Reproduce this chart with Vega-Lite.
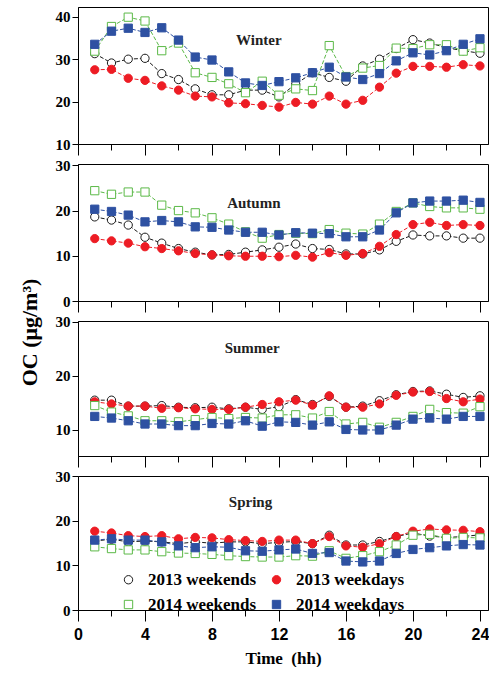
{
  "$schema": "https://vega.github.io/schema/vega-lite/v6.json",
  "background": "white",
  "padding": {"left": 17, "top": 6, "right": 1, "bottom": 0},
  "datasets": {
    "oc": [
      {"season":"Winter","hour":1,"2013 weekends":31.3,"2013 weekdays":27.5,"2014 weekends":31.9,"2014 weekdays":33.5},
      {"season":"Winter","hour":2,"2013 weekends":29.1,"2013 weekdays":27.6,"2014 weekends":37.7,"2014 weekdays":36.6},
      {"season":"Winter","hour":3,"2013 weekends":30.0,"2013 weekdays":25.5,"2014 weekends":39.9,"2014 weekdays":37.3},
      {"season":"Winter","hour":4,"2013 weekends":30.2,"2013 weekdays":25.0,"2014 weekends":39.0,"2014 weekdays":36.3},
      {"season":"Winter","hour":5,"2013 weekends":26.6,"2013 weekdays":23.7,"2014 weekends":32.0,"2014 weekdays":37.4},
      {"season":"Winter","hour":6,"2013 weekends":25.2,"2013 weekdays":22.7,"2014 weekends":33.8,"2014 weekdays":34.5},
      {"season":"Winter","hour":7,"2013 weekends":23.0,"2013 weekdays":21.3,"2014 weekends":26.8,"2014 weekdays":30.5},
      {"season":"Winter","hour":8,"2013 weekends":21.6,"2013 weekdays":21.1,"2014 weekends":25.7,"2014 weekdays":29.8},
      {"season":"Winter","hour":9,"2013 weekends":21.6,"2013 weekdays":19.7,"2014 weekends":24.2,"2014 weekdays":27.0},
      {"season":"Winter","hour":10,"2013 weekends":22.7,"2013 weekdays":19.5,"2014 weekends":22.1,"2014 weekdays":24.4},
      {"season":"Winter","hour":11,"2013 weekends":22.7,"2013 weekdays":19.1,"2014 weekends":24.8,"2014 weekdays":23.8},
      {"season":"Winter","hour":12,"2013 weekends":21.1,"2013 weekdays":18.7,"2014 weekends":21.5,"2014 weekdays":24.7},
      {"season":"Winter","hour":13,"2013 weekends":24.1,"2013 weekdays":19.8,"2014 weekends":23.0,"2014 weekdays":25.6},
      {"season":"Winter","hour":14,"2013 weekends":26.8,"2013 weekdays":19.4,"2014 weekends":22.6,"2014 weekdays":26.8},
      {"season":"Winter","hour":15,"2013 weekends":25.7,"2013 weekdays":21.3,"2014 weekends":33.2,"2014 weekdays":28.1},
      {"season":"Winter","hour":16,"2013 weekends":24.8,"2013 weekdays":19.4,"2014 weekends":25.9,"2014 weekdays":25.8},
      {"season":"Winter","hour":17,"2013 weekends":28.4,"2013 weekdays":20.3,"2014 weekends":27.9,"2014 weekdays":25.2},
      {"season":"Winter","hour":18,"2013 weekends":30.0,"2013 weekdays":23.4,"2014 weekends":28.5,"2014 weekdays":26.6},
      {"season":"Winter","hour":19,"2013 weekends":32.5,"2013 weekdays":26.7,"2014 weekends":32.6,"2014 weekdays":29.6},
      {"season":"Winter","hour":20,"2013 weekends":34.6,"2013 weekdays":28.3,"2014 weekends":32.5,"2014 weekdays":31.5},
      {"season":"Winter","hour":21,"2013 weekends":33.8,"2013 weekdays":28.3,"2014 weekends":33.4,"2014 weekdays":31.0},
      {"season":"Winter","hour":22,"2013 weekends":32.7,"2013 weekdays":28.1,"2014 weekends":33.4,"2014 weekdays":32.0},
      {"season":"Winter","hour":23,"2013 weekends":32.0,"2013 weekdays":28.7,"2014 weekends":31.9,"2014 weekdays":33.5},
      {"season":"Winter","hour":24,"2013 weekends":31.4,"2013 weekdays":28.4,"2014 weekends":32.7,"2014 weekdays":34.8},
      {"season":"Autumn","hour":1,"2013 weekends":18.6,"2013 weekdays":13.8,"2014 weekends":24.4,"2014 weekdays":20.3},
      {"season":"Autumn","hour":2,"2013 weekends":17.9,"2013 weekdays":13.3,"2014 weekends":23.6,"2014 weekdays":19.8},
      {"season":"Autumn","hour":3,"2013 weekends":16.8,"2013 weekdays":12.8,"2014 weekends":24.1,"2014 weekdays":19.0},
      {"season":"Autumn","hour":4,"2013 weekends":14.1,"2013 weekdays":12.0,"2014 weekends":24.1,"2014 weekdays":17.5},
      {"season":"Autumn","hour":5,"2013 weekends":12.8,"2013 weekdays":11.6,"2014 weekends":21.2,"2014 weekdays":17.8},
      {"season":"Autumn","hour":6,"2013 weekends":11.6,"2013 weekdays":11.1,"2014 weekends":20.0,"2014 weekdays":17.5},
      {"season":"Autumn","hour":7,"2013 weekends":10.8,"2013 weekdays":10.5,"2014 weekends":19.5,"2014 weekdays":16.4},
      {"season":"Autumn","hour":8,"2013 weekends":10.2,"2013 weekdays":10.2,"2014 weekends":18.4,"2014 weekdays":16.3},
      {"season":"Autumn","hour":9,"2013 weekends":10.3,"2013 weekdays":10.0,"2014 weekends":17.0,"2014 weekdays":15.7},
      {"season":"Autumn","hour":10,"2013 weekends":10.8,"2013 weekdays":9.9,"2014 weekends":15.3,"2014 weekdays":15.2},
      {"season":"Autumn","hour":11,"2013 weekends":11.3,"2013 weekdays":9.9,"2014 weekends":13.9,"2014 weekdays":15.2},
      {"season":"Autumn","hour":12,"2013 weekends":11.9,"2013 weekdays":9.8,"2014 weekends":14.7,"2014 weekdays":14.6},
      {"season":"Autumn","hour":13,"2013 weekends":12.6,"2013 weekdays":10.1,"2014 weekends":15.0,"2014 weekdays":15.1},
      {"season":"Autumn","hour":14,"2013 weekends":11.6,"2013 weekdays":9.7,"2014 weekends":14.9,"2014 weekdays":15.0},
      {"season":"Autumn","hour":15,"2013 weekends":11.4,"2013 weekdays":10.7,"2014 weekends":15.8,"2014 weekdays":14.9},
      {"season":"Autumn","hour":16,"2013 weekends":10.4,"2013 weekdays":10.1,"2014 weekends":15.0,"2014 weekdays":14.2},
      {"season":"Autumn","hour":17,"2013 weekends":10.4,"2013 weekdays":10.5,"2014 weekends":14.8,"2014 weekdays":14.2},
      {"season":"Autumn","hour":18,"2013 weekends":11.3,"2013 weekdays":12.1,"2014 weekends":17.0,"2014 weekdays":15.7},
      {"season":"Autumn","hour":19,"2013 weekends":13.2,"2013 weekdays":14.7,"2014 weekends":19.8,"2014 weekdays":19.5},
      {"season":"Autumn","hour":20,"2013 weekends":14.6,"2013 weekdays":16.9,"2014 weekends":21.7,"2014 weekdays":21.7},
      {"season":"Autumn","hour":21,"2013 weekends":14.4,"2013 weekdays":17.4,"2014 weekends":20.9,"2014 weekdays":22.1},
      {"season":"Autumn","hour":22,"2013 weekends":14.4,"2013 weekdays":16.7,"2014 weekends":20.6,"2014 weekdays":22.1},
      {"season":"Autumn","hour":23,"2013 weekends":13.9,"2013 weekdays":16.9,"2014 weekends":20.6,"2014 weekdays":22.3},
      {"season":"Autumn","hour":24,"2013 weekends":13.9,"2013 weekdays":16.7,"2014 weekends":20.3,"2014 weekdays":21.8},
      {"season":"Summer","hour":1,"2013 weekends":15.5,"2013 weekdays":15.2,"2014 weekends":14.5,"2014 weekdays":12.5},
      {"season":"Summer","hour":2,"2013 weekends":15.5,"2013 weekdays":14.8,"2014 weekends":13.3,"2014 weekdays":12.2},
      {"season":"Summer","hour":3,"2013 weekends":14.4,"2013 weekdays":14.4,"2014 weekends":12.6,"2014 weekdays":11.7},
      {"season":"Summer","hour":4,"2013 weekends":14.4,"2013 weekdays":14.4,"2014 weekends":11.7,"2014 weekdays":11.1},
      {"season":"Summer","hour":5,"2013 weekends":14.5,"2013 weekdays":14.0,"2014 weekends":11.7,"2014 weekdays":11.1},
      {"season":"Summer","hour":6,"2013 weekends":14.2,"2013 weekdays":14.1,"2014 weekends":11.5,"2014 weekdays":10.8},
      {"season":"Summer","hour":7,"2013 weekends":14.1,"2013 weekdays":13.9,"2014 weekends":11.9,"2014 weekdays":10.8},
      {"season":"Summer","hour":8,"2013 weekends":14.2,"2013 weekdays":13.8,"2014 weekends":12.3,"2014 weekdays":11.2},
      {"season":"Summer","hour":9,"2013 weekends":13.9,"2013 weekdays":13.8,"2014 weekends":12.1,"2014 weekdays":11.1},
      {"season":"Summer","hour":10,"2013 weekends":14.2,"2013 weekdays":14.2,"2014 weekends":12.3,"2014 weekdays":11.7},
      {"season":"Summer","hour":11,"2013 weekends":13.8,"2013 weekdays":14.7,"2014 weekends":12.2,"2014 weekdays":10.7},
      {"season":"Summer","hour":12,"2013 weekends":14.3,"2013 weekdays":15.2,"2014 weekends":12.8,"2014 weekdays":11.5},
      {"season":"Summer","hour":13,"2013 weekends":15.6,"2013 weekdays":15.5,"2014 weekends":12.8,"2014 weekdays":11.4},
      {"season":"Summer","hour":14,"2013 weekends":14.7,"2013 weekdays":14.6,"2014 weekends":12.2,"2014 weekdays":10.9},
      {"season":"Summer","hour":15,"2013 weekends":16.2,"2013 weekdays":16.3,"2014 weekends":13.4,"2014 weekdays":11.5},
      {"season":"Summer","hour":16,"2013 weekends":14.2,"2013 weekdays":14.2,"2014 weekends":11.1,"2014 weekdays":10.1},
      {"season":"Summer","hour":17,"2013 weekends":14.4,"2013 weekdays":14.2,"2014 weekends":11.4,"2014 weekdays":10.0},
      {"season":"Summer","hour":18,"2013 weekends":15.4,"2013 weekdays":14.8,"2014 weekends":10.5,"2014 weekdays":10.0},
      {"season":"Summer","hour":19,"2013 weekends":16.5,"2013 weekdays":16.4,"2014 weekends":11.4,"2014 weekdays":10.9},
      {"season":"Summer","hour":20,"2013 weekends":17.1,"2013 weekdays":17.0,"2014 weekends":12.5,"2014 weekdays":12.0},
      {"season":"Summer","hour":21,"2013 weekends":17.2,"2013 weekdays":17.1,"2014 weekends":13.8,"2014 weekdays":12.2},
      {"season":"Summer","hour":22,"2013 weekends":16.6,"2013 weekdays":15.8,"2014 weekends":13.2,"2014 weekdays":12.0},
      {"season":"Summer","hour":23,"2013 weekends":16.0,"2013 weekdays":15.2,"2014 weekends":13.1,"2014 weekdays":12.5},
      {"season":"Summer","hour":24,"2013 weekends":16.3,"2013 weekdays":15.7,"2014 weekends":14.3,"2014 weekdays":12.5},
      {"season":"Spring","hour":1,"2013 weekends":15.5,"2013 weekdays":17.7,"2014 weekends":14.2,"2014 weekdays":15.7},
      {"season":"Spring","hour":2,"2013 weekends":15.9,"2013 weekdays":17.3,"2014 weekends":13.8,"2014 weekdays":16.0},
      {"season":"Spring","hour":3,"2013 weekends":15.3,"2013 weekdays":16.7,"2014 weekends":13.5,"2014 weekdays":15.7},
      {"season":"Spring","hour":4,"2013 weekends":15.5,"2013 weekdays":16.5,"2014 weekends":13.5,"2014 weekdays":15.7},
      {"season":"Spring","hour":5,"2013 weekends":15.3,"2013 weekdays":16.7,"2014 weekends":13.1,"2014 weekdays":15.3},
      {"season":"Spring","hour":6,"2013 weekends":14.9,"2013 weekdays":16.0,"2014 weekends":12.8,"2014 weekdays":14.4},
      {"season":"Spring","hour":7,"2013 weekends":15.3,"2013 weekdays":16.3,"2014 weekends":12.7,"2014 weekdays":14.0},
      {"season":"Spring","hour":8,"2013 weekends":15.0,"2013 weekdays":16.2,"2014 weekends":12.5,"2014 weekdays":14.2},
      {"season":"Spring","hour":9,"2013 weekends":15.3,"2013 weekdays":15.8,"2014 weekends":12.2,"2014 weekdays":14.1},
      {"season":"Spring","hour":10,"2013 weekends":15.3,"2013 weekdays":15.6,"2014 weekends":12.0,"2014 weekdays":13.3},
      {"season":"Spring","hour":11,"2013 weekends":14.9,"2013 weekdays":15.4,"2014 weekends":11.9,"2014 weekdays":13.2},
      {"season":"Spring","hour":12,"2013 weekends":15.2,"2013 weekdays":15.7,"2014 weekends":11.9,"2014 weekdays":13.5},
      {"season":"Spring","hour":13,"2013 weekends":15.4,"2013 weekdays":15.7,"2014 weekends":12.2,"2014 weekdays":13.7},
      {"season":"Spring","hour":14,"2013 weekends":14.9,"2013 weekdays":14.9,"2014 weekends":12.1,"2014 weekdays":12.7},
      {"season":"Spring","hour":15,"2013 weekends":16.8,"2013 weekdays":16.5,"2014 weekends":13.3,"2014 weekdays":12.9},
      {"season":"Spring","hour":16,"2013 weekends":14.6,"2013 weekdays":14.4,"2014 weekends":11.6,"2014 weekdays":11.0},
      {"season":"Spring","hour":17,"2013 weekends":14.6,"2013 weekdays":14.1,"2014 weekends":12.2,"2014 weekdays":10.8},
      {"season":"Spring","hour":18,"2013 weekends":15.4,"2013 weekdays":14.9,"2014 weekends":13.1,"2014 weekdays":11.0},
      {"season":"Spring","hour":19,"2013 weekends":16.5,"2013 weekdays":16.5,"2014 weekends":14.6,"2014 weekdays":12.7},
      {"season":"Spring","hour":20,"2013 weekends":17.3,"2013 weekdays":17.7,"2014 weekends":16.8,"2014 weekdays":13.6},
      {"season":"Spring","hour":21,"2013 weekends":16.6,"2013 weekdays":18.2,"2014 weekends":17.0,"2014 weekdays":14.0},
      {"season":"Spring","hour":22,"2013 weekends":16.3,"2013 weekdays":18.0,"2014 weekends":16.1,"2014 weekdays":14.4},
      {"season":"Spring","hour":23,"2013 weekends":16.5,"2013 weekdays":17.9,"2014 weekends":16.3,"2014 weekdays":14.7},
      {"season":"Spring","hour":24,"2013 weekends":16.9,"2013 weekdays":17.6,"2014 weekends":16.2,"2014 weekdays":14.6}
    ]
  },
  "bounds": "flush",
  "spacing": 20,
  "resolve": {"scale": {"stroke": "independent", "fill": "independent", "shape": "independent"}},
  "vconcat": [
    {
      "width": 410, "height": 137,
      "resolve": {"axis": {"x": "independent"}},
      "layer": [
        {
          "data": {"name": "oc"},
          "transform": [{"filter": "datum.season === 'Winter'"}, {"fold": ["2013 weekends","2013 weekdays","2014 weekends","2014 weekdays"], "as": ["series","oc"]}],
          "mark": {"type": "line", "strokeDash": [4,2], "strokeWidth": 1},
          "encoding": {
            "x": {"field": "hour", "type": "quantitative", "scale": {"domain": [0,24.48], "nice": false, "zero": false}, "axis": {"orient": "bottom", "values": [0,4,8,12,16,20,24], "tickSize": 11, "labels": false, "title": null, "grid": false}},
            "y": {"field": "oc", "type": "quantitative", "scale": {"domain": [10,42.3], "nice": false, "zero": false}, "axis": {"orient": "left", "values": [10,20,30,40], "tickSize": 6, "labelPadding": 2, "labelFont": "Liberation Serif", "labelFontWeight": "bold", "labelFontSize": 15, "labelOverlap": false, "title": null, "grid": false}},
            "stroke": {"field": "series", "type": "nominal", "scale": {"domain": ["2013 weekends","2014 weekends","2013 weekdays","2014 weekdays"], "range": ["#1a1a1a","#5bb947","#ed1c24","#2e51a2"]}, "legend": null}
          }
        },
        {
          "data": {"name": "oc"},
          "transform": [{"filter": "datum.season === 'Winter'"}, {"fold": ["2013 weekends","2013 weekdays","2014 weekends","2014 weekdays"], "as": ["series","oc"]}],
          "mark": {"type": "point", "opacity": 1, "size": 68, "strokeWidth": 1},
          "encoding": {
            "x": {"field": "hour", "type": "quantitative", "scale": {"domain": [0,24.48], "nice": false, "zero": false}, "axis": null},
            "y": {"field": "oc", "type": "quantitative", "scale": {"domain": [10,42.3], "nice": false, "zero": false}},
            "stroke": {"field": "series", "type": "nominal", "scale": {"domain": ["2013 weekends","2014 weekends","2013 weekdays","2014 weekdays"], "range": ["#1a1a1a","#5bb947","#ed1c24","#2e51a2"]}, "legend": null},
            "fill": {"field": "series", "type": "nominal", "scale": {"domain": ["2013 weekends","2014 weekends","2013 weekdays","2014 weekdays"], "range": ["white","white","#ed1c24","#2e51a2"]}, "legend": null},
            "shape": {"field": "series", "type": "nominal", "scale": {"domain": ["2013 weekends","2014 weekends","2013 weekdays","2014 weekdays"], "range": ["circle","square","circle","square"]}, "legend": null}
          }
        },
        {
          "data": {"values": [{"label": "Winter", "hour": 10.8, "oc": 34.6}]},
          "mark": {"type": "text", "font": "Liberation Serif", "fontWeight": "bold", "fontSize": 15, "color": "#222222"},
          "encoding": {
            "x": {"field": "hour", "type": "quantitative", "scale": {"domain": [0,24.48], "nice": false, "zero": false}, "axis": {"orient": "bottom", "values": [2,6,10,14,18,22], "tickSize": 6, "labels": false, "domain": false, "title": null, "grid": false}},
            "y": {"field": "oc", "type": "quantitative", "scale": {"domain": [10,42.3], "nice": false, "zero": false}},
            "text": {"field": "label"}
          }
        }
      ]
    },
    {
      "width": 410, "height": 137,
      "resolve": {"axis": {"x": "independent"}},
      "layer": [
        {
          "data": {"name": "oc"},
          "transform": [{"filter": "datum.season === 'Autumn'"}, {"fold": ["2013 weekends","2013 weekdays","2014 weekends","2014 weekdays"], "as": ["series","oc"]}],
          "mark": {"type": "line", "strokeDash": [4,2], "strokeWidth": 1},
          "encoding": {
            "x": {"field": "hour", "type": "quantitative", "scale": {"domain": [0,24.48], "nice": false, "zero": false}, "axis": {"orient": "bottom", "values": [0,4,8,12,16,20,24], "tickSize": 11, "labels": false, "title": null, "grid": false}},
            "y": {"field": "oc", "type": "quantitative", "scale": {"domain": [0,30.3], "nice": false, "zero": false}, "axis": {"orient": "left", "values": [0,10,20,30], "tickSize": 6, "labelPadding": 2, "labelFont": "Liberation Serif", "labelFontWeight": "bold", "labelFontSize": 15, "labelOverlap": false, "grid": false, "title": "OC (μg/m³)", "titleFont": "Liberation Serif", "titleFontWeight": "bold", "titleFontSize": 22, "titleAngle": -90, "titleAlign": "center", "titleBaseline": "middle", "titleX": -49, "titleY": 168}},
            "stroke": {"field": "series", "type": "nominal", "scale": {"domain": ["2013 weekends","2014 weekends","2013 weekdays","2014 weekdays"], "range": ["#1a1a1a","#5bb947","#ed1c24","#2e51a2"]}, "legend": null}
          }
        },
        {
          "data": {"name": "oc"},
          "transform": [{"filter": "datum.season === 'Autumn'"}, {"fold": ["2013 weekends","2013 weekdays","2014 weekends","2014 weekdays"], "as": ["series","oc"]}],
          "mark": {"type": "point", "opacity": 1, "size": 68, "strokeWidth": 1},
          "encoding": {
            "x": {"field": "hour", "type": "quantitative", "scale": {"domain": [0,24.48], "nice": false, "zero": false}, "axis": null},
            "y": {"field": "oc", "type": "quantitative", "scale": {"domain": [0,30.3], "nice": false, "zero": false}},
            "stroke": {"field": "series", "type": "nominal", "scale": {"domain": ["2013 weekends","2014 weekends","2013 weekdays","2014 weekdays"], "range": ["#1a1a1a","#5bb947","#ed1c24","#2e51a2"]}, "legend": null},
            "fill": {"field": "series", "type": "nominal", "scale": {"domain": ["2013 weekends","2014 weekends","2013 weekdays","2014 weekdays"], "range": ["white","white","#ed1c24","#2e51a2"]}, "legend": null},
            "shape": {"field": "series", "type": "nominal", "scale": {"domain": ["2013 weekends","2014 weekends","2013 weekdays","2014 weekdays"], "range": ["circle","square","circle","square"]}, "legend": null}
          }
        },
        {
          "data": {"values": [{"label": "Autumn", "hour": 10.5, "oc": 21.6}]},
          "mark": {"type": "text", "font": "Liberation Serif", "fontWeight": "bold", "fontSize": 15, "color": "#222222"},
          "encoding": {
            "x": {"field": "hour", "type": "quantitative", "scale": {"domain": [0,24.48], "nice": false, "zero": false}, "axis": {"orient": "bottom", "values": [2,6,10,14,18,22], "tickSize": 6, "labels": false, "domain": false, "title": null, "grid": false}},
            "y": {"field": "oc", "type": "quantitative", "scale": {"domain": [0,30.3], "nice": false, "zero": false}},
            "text": {"field": "label"}
          }
        }
      ]
    },
    {
      "width": 410, "height": 135,
      "resolve": {"axis": {"x": "independent"}},
      "layer": [
        {
          "data": {"name": "oc"},
          "transform": [{"filter": "datum.season === 'Summer'"}, {"fold": ["2013 weekends","2013 weekdays","2014 weekends","2014 weekdays"], "as": ["series","oc"]}],
          "mark": {"type": "line", "strokeDash": [4,2], "strokeWidth": 1},
          "encoding": {
            "x": {"field": "hour", "type": "quantitative", "scale": {"domain": [0,24.48], "nice": false, "zero": false}, "axis": {"orient": "bottom", "values": [0,4,8,12,16,20,24], "tickSize": 11, "labels": false, "title": null, "grid": false}},
            "y": {"field": "oc", "type": "quantitative", "scale": {"domain": [5.2,30.1], "nice": false, "zero": false}, "axis": {"orient": "left", "values": [10,20,30], "tickSize": 6, "labelPadding": 2, "labelFont": "Liberation Serif", "labelFontWeight": "bold", "labelFontSize": 15, "labelOverlap": false, "title": null, "grid": false}},
            "stroke": {"field": "series", "type": "nominal", "scale": {"domain": ["2013 weekends","2014 weekends","2013 weekdays","2014 weekdays"], "range": ["#1a1a1a","#5bb947","#ed1c24","#2e51a2"]}, "legend": null}
          }
        },
        {
          "data": {"name": "oc"},
          "transform": [{"filter": "datum.season === 'Summer'"}, {"fold": ["2013 weekends","2013 weekdays","2014 weekends","2014 weekdays"], "as": ["series","oc"]}],
          "mark": {"type": "point", "opacity": 1, "size": 68, "strokeWidth": 1},
          "encoding": {
            "x": {"field": "hour", "type": "quantitative", "scale": {"domain": [0,24.48], "nice": false, "zero": false}, "axis": null},
            "y": {"field": "oc", "type": "quantitative", "scale": {"domain": [5.2,30.1], "nice": false, "zero": false}},
            "stroke": {"field": "series", "type": "nominal", "scale": {"domain": ["2013 weekends","2014 weekends","2013 weekdays","2014 weekdays"], "range": ["#1a1a1a","#5bb947","#ed1c24","#2e51a2"]}, "legend": null},
            "fill": {"field": "series", "type": "nominal", "scale": {"domain": ["2013 weekends","2014 weekends","2013 weekdays","2014 weekdays"], "range": ["white","white","#ed1c24","#2e51a2"]}, "legend": null},
            "shape": {"field": "series", "type": "nominal", "scale": {"domain": ["2013 weekends","2014 weekends","2013 weekdays","2014 weekdays"], "range": ["circle","square","circle","square"]}, "legend": null}
          }
        },
        {
          "data": {"values": [{"label": "Summer", "hour": 10.4, "oc": 25.2}]},
          "mark": {"type": "text", "font": "Liberation Serif", "fontWeight": "bold", "fontSize": 15, "color": "#222222"},
          "encoding": {
            "x": {"field": "hour", "type": "quantitative", "scale": {"domain": [0,24.48], "nice": false, "zero": false}, "axis": {"orient": "bottom", "values": [2,6,10,14,18,22], "tickSize": 6, "labels": false, "domain": false, "title": null, "grid": false}},
            "y": {"field": "oc", "type": "quantitative", "scale": {"domain": [5.2,30.1], "nice": false, "zero": false}},
            "text": {"field": "label"}
          }
        }
      ]
    },
    {
      "width": 410, "height": 134,
      "resolve": {"axis": {"x": "independent"}, "legend": {"stroke": "independent", "fill": "independent", "shape": "independent"}},
      "layer": [
        {
          "data": {"name": "oc"},
          "transform": [{"filter": "datum.season === 'Spring'"}, {"fold": ["2013 weekends","2013 weekdays","2014 weekends","2014 weekdays"], "as": ["series","oc"]}],
          "mark": {"type": "line", "strokeDash": [4,2], "strokeWidth": 1},
          "encoding": {
            "x": {"field": "hour", "type": "quantitative", "scale": {"domain": [0,24.48], "nice": false, "zero": false}, "axis": {"orient": "bottom", "values": [0,4,8,12,16,20,24], "tickSize": 11, "labels": true, "labelFlush": false, "labelOverlap": false, "labelFont": "Liberation Sans", "labelFontWeight": "bold", "labelFontSize": 16, "labelPadding": 5, "grid": false, "title": "Time\u00a0\u00a0(hh)", "titleFont": "Liberation Serif", "titleFontWeight": "bold", "titleFontSize": 17, "titlePadding": 8}},
            "y": {"field": "oc", "type": "quantitative", "scale": {"domain": [0,30.1], "nice": false, "zero": false}, "axis": {"orient": "left", "values": [0,10,20,30], "tickSize": 6, "labelPadding": 2, "labelFont": "Liberation Serif", "labelFontWeight": "bold", "labelFontSize": 15, "labelOverlap": false, "title": null, "grid": false}},
            "stroke": {"field": "series", "type": "nominal", "scale": {"domain": ["2013 weekends","2014 weekends","2013 weekdays","2014 weekdays"], "range": ["#1a1a1a","#5bb947","#ed1c24","#2e51a2"]}, "legend": null}
          }
        },
        {
          "data": {"name": "oc"},
          "transform": [{"filter": "datum.season === 'Spring'"}, {"fold": ["2013 weekends","2013 weekdays","2014 weekends","2014 weekdays"], "as": ["series","oc"]}],
          "mark": {"type": "point", "opacity": 1, "size": 68, "strokeWidth": 1},
          "encoding": {
            "x": {"field": "hour", "type": "quantitative", "scale": {"domain": [0,24.48], "nice": false, "zero": false}, "axis": null},
            "y": {"field": "oc", "type": "quantitative", "scale": {"domain": [0,30.1], "nice": false, "zero": false}},
            "stroke": {"field": "series", "type": "nominal", "scale": {"domain": ["2013 weekends","2014 weekends","2013 weekdays","2014 weekdays"], "range": ["#1a1a1a","#5bb947","#ed1c24","#2e51a2"]}, "legend": {"orient": "none", "legendX": 42, "legendY": 95, "columns": 2, "title": null, "padding": 0, "labelFont": "Liberation Serif", "labelFontWeight": "bold", "labelFontSize": 17, "labelColor": "black", "labelOffset": 11, "labelLimit": 300, "columnPadding": 11, "rowPadding": 7, "symbolSize": 70, "symbolStrokeWidth": 1}},
            "fill": {"field": "series", "type": "nominal", "scale": {"domain": ["2013 weekends","2014 weekends","2013 weekdays","2014 weekdays"], "range": ["white","white","#ed1c24","#2e51a2"]}, "legend": {"orient": "none", "legendX": 42, "legendY": 95, "columns": 2, "title": null, "padding": 0, "labelFont": "Liberation Serif", "labelFontWeight": "bold", "labelFontSize": 17, "labelColor": "black", "labelOffset": 11, "labelLimit": 300, "columnPadding": 11, "rowPadding": 7, "symbolSize": 70, "symbolStrokeWidth": 1}},
            "shape": {"field": "series", "type": "nominal", "scale": {"domain": ["2013 weekends","2014 weekends","2013 weekdays","2014 weekdays"], "range": ["circle","square","circle","square"]}, "legend": {"orient": "none", "legendX": 42, "legendY": 95, "columns": 2, "title": null, "padding": 0, "labelFont": "Liberation Serif", "labelFontWeight": "bold", "labelFontSize": 17, "labelColor": "black", "labelOffset": 11, "labelLimit": 300, "columnPadding": 11, "rowPadding": 7, "symbolSize": 70, "symbolStrokeWidth": 1}}
          }
        },
        {
          "data": {"values": [{"label": "Spring", "hour": 10.3, "oc": 24.2}]},
          "mark": {"type": "text", "font": "Liberation Serif", "fontWeight": "bold", "fontSize": 15, "color": "#222222"},
          "encoding": {
            "x": {"field": "hour", "type": "quantitative", "scale": {"domain": [0,24.48], "nice": false, "zero": false}, "axis": {"orient": "bottom", "values": [2,6,10,14,18,22], "tickSize": 6, "labels": false, "domain": false, "title": null, "grid": false}},
            "y": {"field": "oc", "type": "quantitative", "scale": {"domain": [0,30.1], "nice": false, "zero": false}},
            "text": {"field": "label"}
          }
        }
      ]
    }
  ],
  "config": {
    "view": {"stroke": "black", "strokeWidth": 1},
    "axis": {"domainColor": "black", "tickColor": "black", "labelColor": "black", "titleColor": "black", "domainWidth": 1, "tickWidth": 1}
  }
}
